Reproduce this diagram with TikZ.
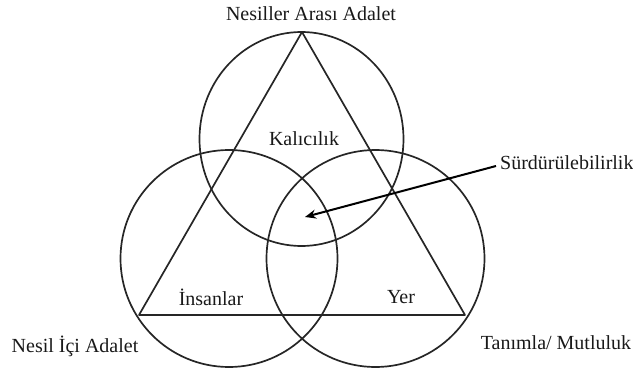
\documentclass[tikz,border=0pt]{standalone}
\usepackage{fontspec}
\setmainfont{Liberation Serif}
\usetikzlibrary{arrows.meta,shapes.geometric}
\begin{document}
\begin{tikzpicture}[x=1pt,y=-1pt,
  ring/.style={draw=black!85,line width=1.7pt,ellipse,inner sep=0pt},
  edge/.style={draw=black!85,line width=1.7pt,line join=round},
  lbl/.style={font=\fontsize{20}{22}\selectfont,inner sep=1pt,text=black!90},
  pointer/.style={draw=black,line width=2pt,-{Stealth[length=11pt,width=9pt]}}]
\useasboundingbox (0,0) rectangle (633,369);
% the three overlapping circles
\node[ring,minimum width=204pt,minimum height=214pt] (ctop) at (301.5,139) {};
\node[ring,minimum width=217pt,minimum height=217pt] (cleft) at (229,258.5) {};
\node[ring,minimum width=218pt,minimum height=217pt] (cright) at (375.5,258.5) {};
% triangle corners
\coordinate (apex) at (302,32);
\coordinate (bl) at (139,315);
\coordinate (br) at (465,315);
\draw[edge] (apex) -- (bl) -- (br) -- cycle;
% labels
\node[lbl] (inter) at (311,14) {Nesiller Arası Adalet};
\node[lbl] (kal) at (304,139) {Kalıcılık};
\node[lbl,anchor=west] (surd) at (499,163) {Sürdürülebilirlik};
\node[lbl] (ins) at (211,297) {İnsanlar};
\node[lbl] (yer) at (401,297) {Yer};
\node[lbl] (intra) at (75,346) {Nesil İçi Adalet};
\node[lbl] (tan) at (556,343) {Tanımla/ Mutluluk};
% arrow into the common centre
\coordinate (start) at (496,166);
\coordinate (core) at (305,217);
\draw[pointer] (start) -- (core);
\end{tikzpicture}
\end{document}
